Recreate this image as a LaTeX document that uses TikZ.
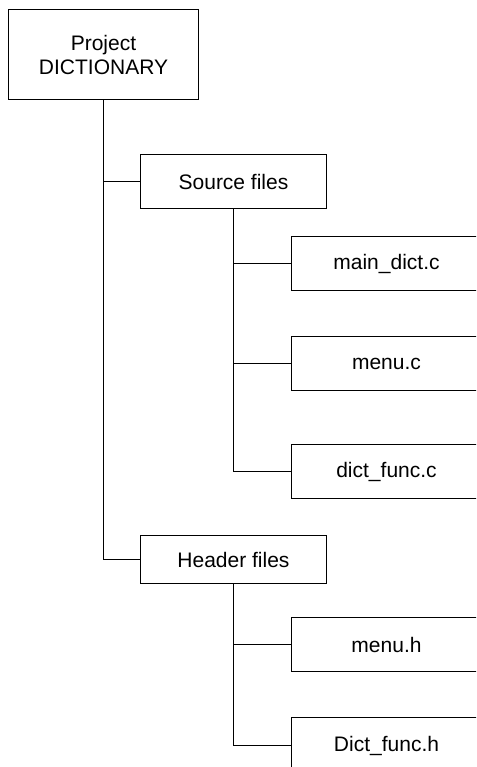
\documentclass[tikz,border=0pt]{standalone}
\usepackage{fontspec}
\setmainfont{Liberation Sans}
\begin{document}
\begin{tikzpicture}[x=1pt,y=-1pt,
  box/.style={draw=black, line width=1pt, fill=white, anchor=north west, align=center,
    inner sep=0pt, font=\fontsize{21}{24}\selectfont},
  link/.style={draw=black, line width=1pt}]
\useasboundingbox (0,0) rectangle (476,767);
\clip (0,0) rectangle (476,767);
\node[box, minimum width=190pt, minimum height=90pt] (proj) at (8,9) {Project\\DICTIONARY};
\node[box, minimum width=186pt, minimum height=54pt] (src) at (140,154) {Source files};
\node[box, minimum width=186pt, minimum height=48pt] (hdr) at (140,535) {Header files};
\node[box, minimum width=190pt, minimum height=54pt, text width=186pt] (mdc) at (291,236) {main\_dict.c};
\node[box, minimum width=190pt, minimum height=54pt, text width=186pt] (mc) at (291,336) {menu.c};
\node[box, minimum width=190pt, minimum height=54pt, text width=186pt] (dfc) at (291,444) {dict\_func.c};
\node[box, minimum width=190pt, minimum height=54pt, text width=186pt] (mh) at (291,617) {menu.h};
\node[box, minimum width=190pt, minimum height=56pt, text width=186pt] (dfh) at (291,717) {Dict\_func.h};
\draw[link] (proj.south) |- (hdr.west);
\draw[link] (proj.south |- src.west) -- (src.west);
\draw[link] (src.south) |- (dfc.west);
\draw[link] (src.south |- mdc.west) -- (mdc.west);
\draw[link] (src.south |- mc.west) -- (mc.west);
\draw[link] (hdr.south) |- (dfh.west);
\draw[link] (hdr.south |- mh.west) -- (mh.west);
\end{tikzpicture}
\end{document}
